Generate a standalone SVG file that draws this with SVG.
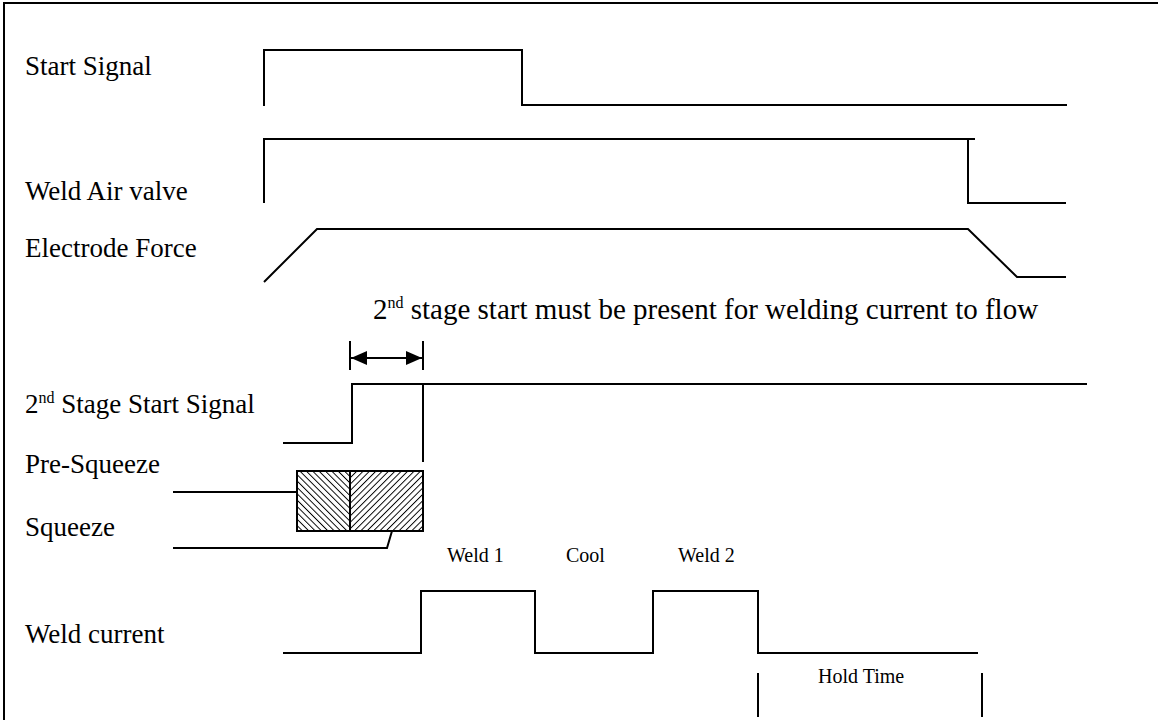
<svg xmlns="http://www.w3.org/2000/svg" width="1158" height="720" viewBox="0 0 1158 720">
  <style>
    .sig { fill: none; stroke: #000; stroke-width: 2; stroke-linejoin: miter; stroke-linecap: butt; }
    .lbl { font-family: "Liberation Serif", "Times New Roman", serif; font-size: 27px; fill: #000; }
    .note { font-family: "Liberation Serif", "Times New Roman", serif; font-size: 29px; fill: #000; }
    .small { font-family: "Liberation Serif", "Times New Roman", serif; font-size: 20px; fill: #000; }
    .sup { font-size: 16px; }
  </style>
  <defs>
    <!-- "\" strokes -->
    <pattern id="hatchBack" width="4.5" height="4.5" patternUnits="userSpaceOnUse" patternTransform="rotate(-45)">
      <rect width="4.5" height="4.5" fill="#fff"/>
      <line x1="0" y1="0" x2="0" y2="4.5" stroke="#000" stroke-width="1.9"/>
    </pattern>
    <!-- "/" strokes -->
    <pattern id="hatchFwd" width="4.5" height="4.5" patternUnits="userSpaceOnUse" patternTransform="rotate(45)">
      <rect width="4.5" height="4.5" fill="#fff"/>
      <line x1="0" y1="0" x2="0" y2="4.5" stroke="#000" stroke-width="1.9"/>
    </pattern>
    <marker id="arrowHead" viewBox="0 0 16 14" refX="16" refY="7" markerWidth="16" markerHeight="14" markerUnits="userSpaceOnUse" orient="auto-start-reverse">
      <path d="M0,0 L16,7 L0,14 Z" fill="#000"/>
    </marker>
  </defs>

  <rect width="1158" height="720" fill="#fff"/>
  <!-- page frame -->
  <path d="M4,720 L4,3 L1158,3" fill="none" stroke="#000" stroke-width="2"/>

  <!-- signal labels -->
  <g id="label-start-signal"><text class="lbl" x="25" y="75">Start Signal</text></g>
  <g id="label-weld-air-valve"><text class="lbl" x="25" y="200">Weld Air valve</text></g>
  <g id="label-electrode-force"><text class="lbl" x="25" y="257">Electrode Force</text></g>
  <g id="label-second-stage"><text class="lbl" x="25" y="413">2<tspan class="sup" dy="-10">nd</tspan><tspan dy="10"> Stage Start Signal</tspan></text></g>
  <g id="label-pre-squeeze"><text class="lbl" x="25" y="473">Pre-Squeeze</text></g>
  <g id="label-squeeze"><text class="lbl" x="25" y="536">Squeeze</text></g>
  <g id="label-weld-current"><text class="lbl" x="25" y="643">Weld current</text></g>
  <g id="note-second-stage"><text class="note" x="373" y="319">2<tspan class="sup" dy="-11">nd</tspan><tspan dy="11"> stage start must be present for welding current to flow</tspan></text></g>

  <!-- waveforms -->
  <g id="wave-start-signal"><path class="sig" d="M264,106 L264,50 L522,50 L522,105 L1067,105"/></g>
  <g id="wave-weld-air-valve"><path class="sig" d="M264,203 L264,139 L975,139 M968,139 L968,203 L1066,203"/></g>
  <g id="wave-electrode-force"><path class="sig" d="M264,282 L317,229 L968,229 L1017,277 L1066,277"/></g>
  <g id="wave-second-stage"><path class="sig" d="M283,443 L352,443 L352,384 L1087,384 M423,384 L423,462"/></g>

  <g id="squeeze-block">
    <rect x="297" y="471" width="53" height="60" fill="url(#hatchBack)" stroke="#000" stroke-width="2"/>
    <rect x="350" y="471" width="73" height="60" fill="url(#hatchFwd)" stroke="#000" stroke-width="2"/>
  </g>

  <g id="wave-weld-current"><path class="sig" d="M283,653 L421,653 L421,591 L535,591 L535,653 L653,653 L653,591 L758,591 L758,653 L978,653"/></g>

  <!-- phase labels -->
  <g id="label-weld1"><text class="small" x="447" y="562">Weld 1</text></g>
  <g id="label-cool"><text class="small" x="566" y="562">Cool</text></g>
  <g id="label-weld2"><text class="small" x="678" y="562">Weld 2</text></g>
  <g id="label-hold-time"><text class="small" x="818" y="683">Hold Time</text></g>

  <!-- connectors, leads and dimension marks -->
  <g id="connectors">
    <path class="sig" d="M173,492 L297,492"/>
    <path class="sig" d="M173,548 L387,548 L392,531"/>
    <path class="sig" d="M350,341 L350,370 M423,341 L423,370"/>
    <line x1="351" y1="358" x2="422" y2="358" stroke="#000" stroke-width="2" marker-start="url(#arrowHead)" marker-end="url(#arrowHead)"/>
    <path class="sig" d="M758,673 L758,717 M982,673 L982,717"/>
  </g>
</svg>
